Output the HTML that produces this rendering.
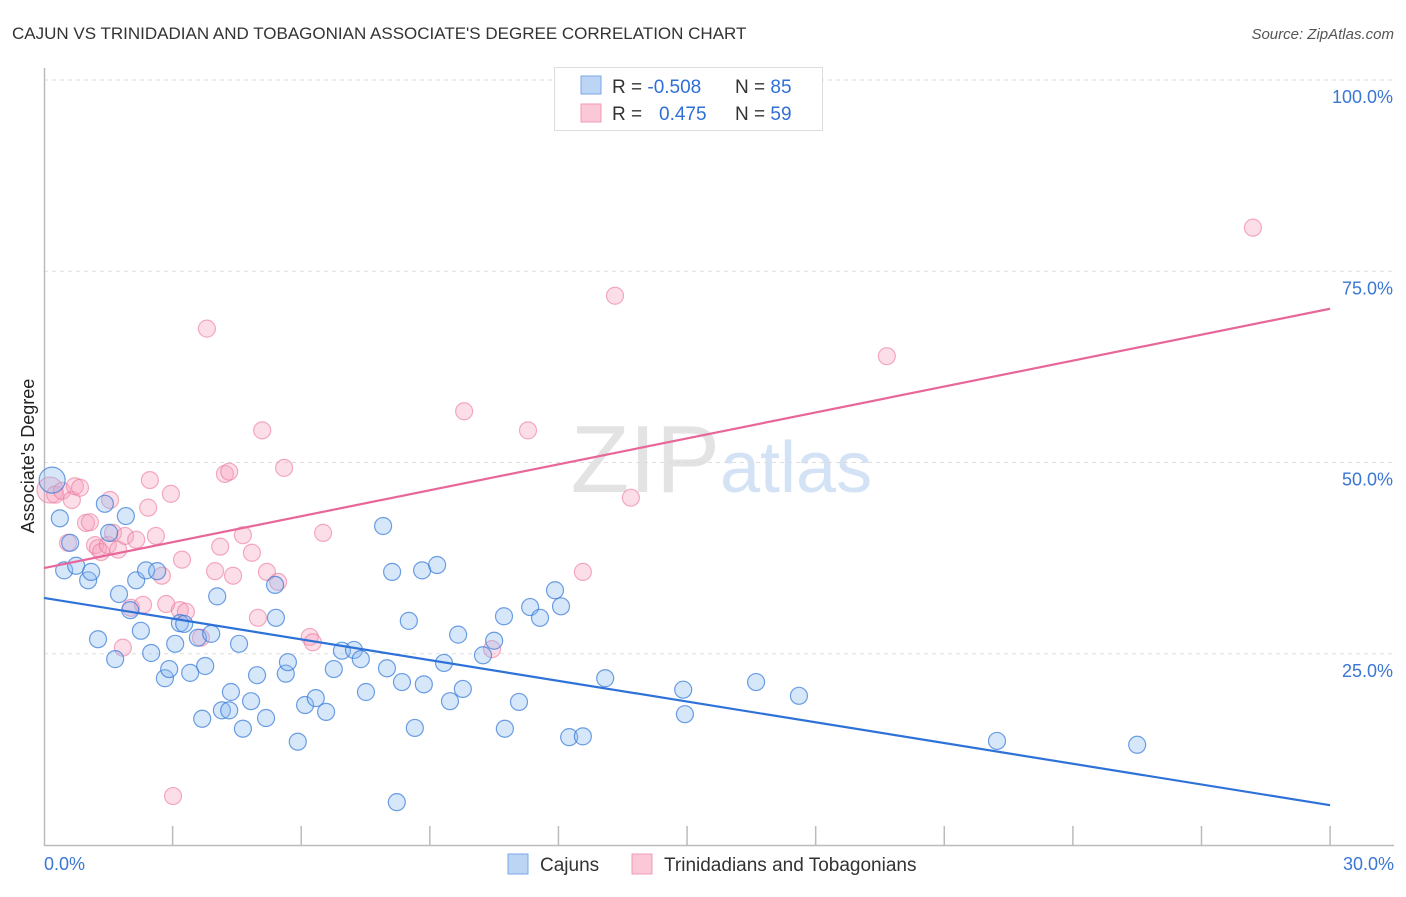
<!DOCTYPE html>
<html><head><meta charset="utf-8"><style>
body{margin:0;background:#fff;font-family:"Liberation Sans",sans-serif;}
svg text{font-family:"Liberation Sans",sans-serif;}
</style></head><body>
<svg id="chart" width="1406" height="892">
<text x="12" y="39" font-size="17" fill="#333">CAJUN VS TRINIDADIAN AND TOBAGONIAN ASSOCIATE'S DEGREE CORRELATION CHART</text>
<text x="1394" y="39" font-size="15" fill="#555" text-anchor="end" font-style="italic">Source: ZipAtlas.com</text>
<text x="720" y="492" font-size="96" fill="#e3e3e3" text-anchor="end" font-family="Liberation Serif">ZIP</text>
<text x="720" y="492" font-size="72" fill="#d3e2f5">atlas</text>
<g id="grid"></g>
<g id="axes"></g>
<g id="pts"></g>
<g id="lines"></g>
<text transform="translate(34,456) rotate(-90)" font-size="18" fill="#222" text-anchor="middle">Associate's Degree</text>
<g>
<rect x="554.5" y="67.5" width="268" height="63" fill="#fff" stroke="#ddd"/>
<rect x="581" y="76" width="20" height="18" fill="#bcd5f5" stroke="#7aa7e8"/>
<rect x="581" y="104" width="20" height="18" fill="#fac8d7" stroke="#f29ab4"/>
<text x="612" y="93" font-size="19" fill="#333">R = <tspan fill="#2f6fd6">-0.508</tspan><tspan x="735">N = </tspan><tspan fill="#2f6fd6">85</tspan></text>
<text x="612" y="120" font-size="19" fill="#333">R = <tspan x="659" fill="#2f6fd6">0.475</tspan><tspan x="735">N = </tspan><tspan fill="#2f6fd6">59</tspan></text>
</g>
<g>
<rect x="508" y="854" width="20" height="20" fill="#bcd5f5" stroke="#7aa7e8"/>
<text x="540" y="871" font-size="19" fill="#333">Cajuns</text>
<rect x="632" y="854" width="20" height="20" fill="#fac8d7" stroke="#f29ab4"/>
<text x="664" y="871" font-size="19" fill="#333">Trinidadians and Tobagonians</text>
</g>
</svg>
<script>
const blueX=[0.19,0.37,0.61,0.47,0.75,1.03,1.10,1.26,1.42,1.52,1.66,1.75,1.91,2.01,2.15,2.26,2.38,2.50,2.64,2.82,2.92,3.06,3.17,3.27,3.41,3.59,3.69,3.76,3.90,4.04,4.15,4.32,4.36,4.55,4.64,4.83,4.97,5.18,5.39,5.41,5.64,5.69,5.92,6.09,6.34,6.58,6.76,6.95,7.23,7.39,7.51,7.91,8.00,8.12,8.23,8.35,8.51,8.65,8.82,8.86,9.17,9.33,9.47,9.66,9.77,10.24,10.50,10.73,10.75,11.08,11.34,11.57,11.92,12.06,12.25,12.57,13.09,14.91,14.95,16.61,17.61,22.23,25.50];
const blueY=[47.7,42.7,39.5,35.9,36.5,34.6,35.7,26.9,44.6,40.8,24.3,32.8,43.0,30.7,34.6,28.0,35.9,25.1,35.8,21.8,23.0,26.3,29.0,28.9,22.5,27.1,16.5,23.4,27.6,32.5,17.6,17.6,20.0,26.3,15.2,18.8,22.2,16.6,34.0,29.7,22.4,23.9,13.5,18.3,19.2,17.4,23.0,25.4,25.5,24.3,20.0,41.7,23.1,35.7,5.6,21.3,29.3,15.3,35.9,21.0,36.6,23.8,18.8,27.5,20.4,24.8,26.7,29.9,15.2,18.7,31.1,29.7,33.3,31.2,14.1,14.2,21.8,20.3,17.1,21.3,19.5,13.6,13.1];
const pinkX=[0.14,0.26,0.42,0.56,0.65,0.72,0.84,0.98,1.07,1.19,1.26,1.33,1.49,1.54,1.61,1.73,1.84,1.89,2.03,2.15,2.31,2.43,2.47,2.61,2.75,2.85,2.96,3.01,3.17,3.22,3.31,3.66,3.80,3.99,4.11,4.22,4.32,4.41,4.64,4.85,4.99,5.09,5.20,5.46,5.60,6.20,6.27,6.51,9.80,10.45,11.29,12.57,13.32,13.69,19.66,28.20];
const pinkY=[46.4,45.8,46.3,39.5,45.1,46.9,46.7,42.1,42.2,39.2,38.8,38.3,39.2,45.1,40.8,38.6,25.8,40.4,31.0,39.9,31.4,44.1,47.7,40.4,35.2,31.5,45.9,6.4,30.7,37.3,30.5,27.1,67.5,35.8,39.0,48.5,48.8,35.2,40.5,38.2,29.7,54.2,35.7,34.4,49.3,27.2,26.5,40.8,56.7,25.6,54.2,35.7,71.8,45.4,63.9,80.7];
const blueTrend=[32.3,5.2];
const pinkTrend=[36.2,70.1];
const yTicks=[25,50,75,100];
const yTickLabels=["25.0%","50.0%","75.0%","100.0%"];
const xTicks=[0,3,6,9,12,15,18,21,24,27,30];
const NS="http://www.w3.org/2000/svg";
const X=v=>44+v*42.87, Y=v=>845-v*7.65;
function mk(t,a,p){const e=document.createElementNS(NS,t);for(const k in a)e.setAttribute(k,a[k]);p.appendChild(e);return e;}
const grid=document.getElementById('grid'),axes=document.getElementById('axes'),pts=document.getElementById('pts'),lines=document.getElementById('lines');
yTicks.forEach((t,i)=>{
 const l=mk('line',{x1:44,x2:1394,y1:Y(t),y2:Y(t),stroke:'#ddd','stroke-dasharray':'4,4'},grid);
 
 
 const tx=mk('text',{x:1393,y:Y(t)+23,'font-size':18,fill:'#3a76d4','text-anchor':'end'},axes);
 tx.textContent=yTickLabels[i];
 
 
});
const ax=mk('path',{d:'M44.5 68V845.5H1394',fill:'none',stroke:'#bbb','stroke-width':1.5},axes);


xTicks.forEach(t=>{if(t===0)return;
 const l=mk('line',{x1:X(t),x2:X(t),y1:826,y2:845,stroke:'#bbb','stroke-width':1.5},axes);
 
 
});
[[0,'0.0%',44,'start'],[30,'30.0%',1394,'end']].forEach(d=>{
 const tx=mk('text',{x:d[2],y:870,'font-size':18,fill:'#3a76d4','text-anchor':d[3]},axes);
 tx.textContent=d[1];
 
 
});
function dots(xs,ys,fill,stroke,name){xs.forEach((x,i)=>{
 const c=mk('circle',{cx:X(x),cy:Y(ys[i]),r:i===0?13:8.5,fill:fill,stroke:stroke,'stroke-width':1.2},pts);
 
 
});}
dots(pinkX,pinkY,'rgba(246,160,188,0.35)','rgba(235,120,155,0.6)','point-trinidadian');
dots(blueX,blueY,'rgba(140,185,240,0.35)','rgba(50,120,215,0.7)','point-cajun');
const bl=mk('line',{x1:X(0),y1:Y(blueTrend[0]),x2:X(30),y2:Y(blueTrend[1]),stroke:'#2e72d8','stroke-width':2.2},lines);


const pl=mk('line',{x1:X(0),y1:Y(pinkTrend[0]),x2:X(30),y2:Y(pinkTrend[1]),stroke:'#e8679a','stroke-width':2.2},lines);


</script>
</body></html>
